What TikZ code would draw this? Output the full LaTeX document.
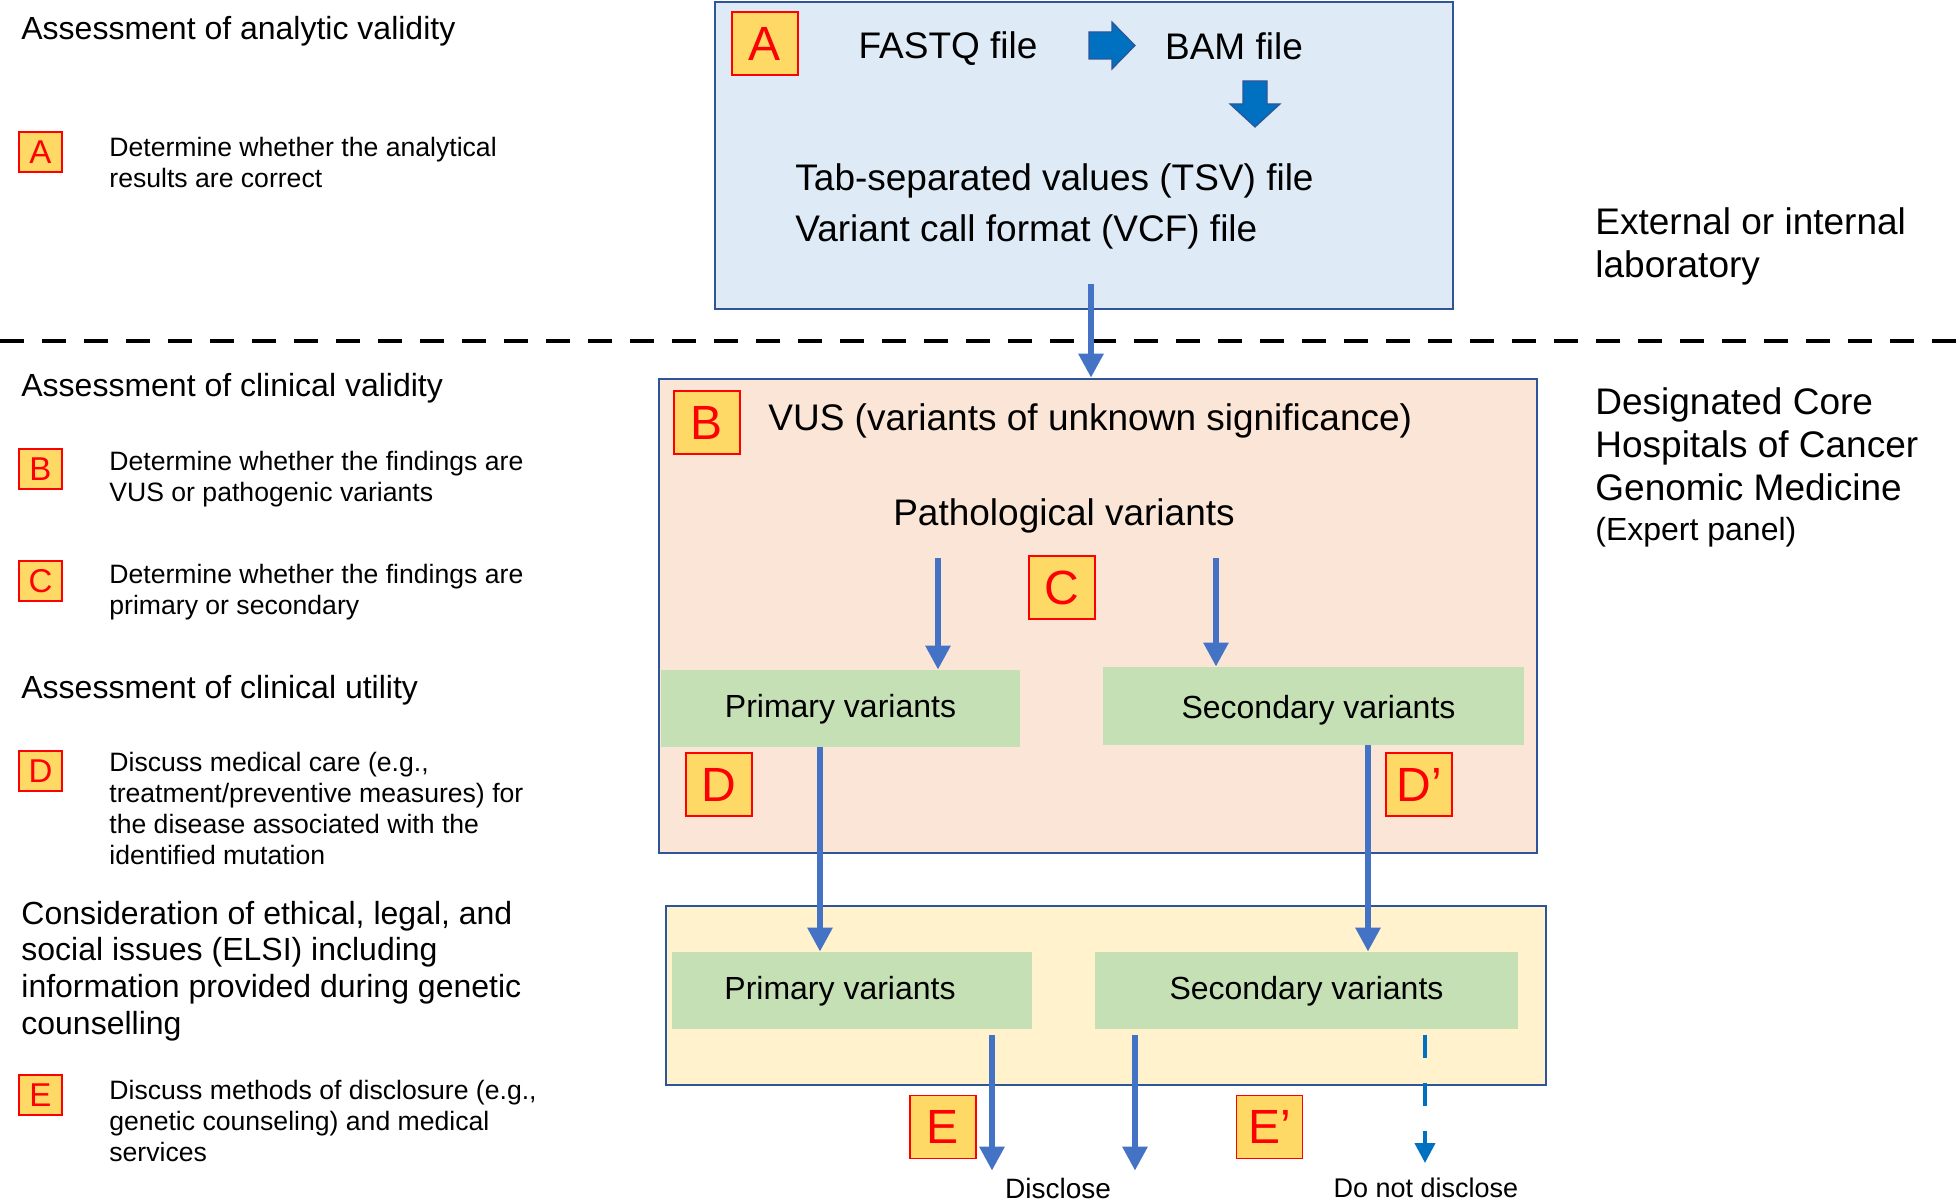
\documentclass[tikz,border=0pt]{standalone}
\usepackage{fontspec}
\setmainfont{Liberation Sans}
\usetikzlibrary{arrows.meta}
\definecolor{blueFill}{HTML}{DEEBF7}
\definecolor{pinkFill}{HTML}{FBE5D6}
\definecolor{yellowFill}{HTML}{FFF2CC}
\definecolor{greenFill}{HTML}{C5E0B4}
\definecolor{boxBorder}{HTML}{2F5597}
\definecolor{arrowBlue}{HTML}{4472C4}
\definecolor{dashBlue}{HTML}{0070C0}
\definecolor{badgeFill}{HTML}{FFD966}
\definecolor{badgeRed}{HTML}{FF0000}
\tikzset{
  hd/.style={anchor=west, align=left, font=\fontsize{16}{18.3}\selectfont, inner sep=0},
  sm/.style={anchor=west, align=left, font=\fontsize{13.3}{15.5}\selectfont, inner sep=0},
  big/.style={font=\fontsize{18.5}{21.5}\selectfont, inner sep=0},
  badge/.style={draw=badgeRed, fill=badgeFill, text=badgeRed, line width=0.75pt, inner sep=0},
  bigbadge/.style={badge, minimum width=33pt, minimum height=31.5pt, font=\fontsize{24}{24}\selectfont},
  smallbadge/.style={badge, minimum width=21.5pt, minimum height=20pt, font=\fontsize{16.5}{16.5}\selectfont},
  region/.style={draw=boxBorder, line width=1.3pt},
  greenbox/.style={fill=greenFill, font=\fontsize{16}{18}\selectfont, inner sep=0},
  conn/.style={draw=arrowBlue, line width=2.9pt, -{Triangle[length=12pt,width=12pt]}},
  dconn/.style={draw=dashBlue, line width=2pt, dash pattern=on 11.5pt off 12.5pt, -{Triangle[length=10pt,width=10pt]}},
  blockarrow/.style={fill=dashBlue, draw=boxBorder, line width=0.6pt},
}
\begin{document}
\begin{tikzpicture}[x=0.5pt,y=-0.5pt]
\useasboundingbox (0,0) rectangle (1956,1204);

% divider
\draw[line width=1.8pt, dash pattern=on 12pt off 9pt] (0,341) -- (1956,341);

% left column
\node[hd] (h1) at (21,31) {Assessment of analytic validity};
\node[smallbadge] (sa) at (40.5,152) {A};
\node[sm] (ta) at (109,162.5) {Determine whether the analytical\\results are correct};
\node[hd] (h2) at (21,388) {Assessment of clinical validity};
\node[smallbadge] (sb) at (40.5,469) {B};
\node[sm] (tb) at (109,479) {Determine whether the findings are\\VUS or pathogenic variants};
\node[smallbadge] (sc) at (40.5,581) {C};
\node[sm] (tc) at (109,592.5) {Determine whether the findings are\\primary or secondary};
\node[hd] (h3) at (21,690) {Assessment of clinical utility};
\node[smallbadge] (sd) at (40.5,771) {D};
\node[sm] (td) at (109,808) {Discuss medical care (e.g.,\\treatment/preventive measures) for\\the disease associated with the\\identified mutation};
\node[hd] (h4) at (21,971) {Consideration of ethical, legal, and\\social issues (ELSI) including\\information provided during genetic\\counselling};
\node[smallbadge] (se) at (40.5,1095) {E};
\node[sm] (te) at (109,1120.5) {Discuss methods of disclosure (e.g.,\\genetic counseling) and medical\\services};

% right column
\node[big, anchor=west, align=left] (lab) at (1595,246.5) {External or internal\\laboratory};
\node[big, anchor=west, align=left] (hosp) at (1595,444) {Designated Core\\Hospitals of Cancer\\Genomic Medicine};
\node[anchor=west, inner sep=0, font=\fontsize{16}{18}\selectfont] (expert) at (1595,532) {(Expert panel)};

% box A
\node[region, fill=blueFill, minimum width=369pt, minimum height=153.5pt] (boxA) at (1084,155.5) {};
\node[bigbadge] (ba) at (765,43.5) {A};
\node[big] (fastq) at (948,49) {FASTQ file};
\node[big] (bam) at (1234,46) {BAM file};
\node[big, anchor=west] (tsv) at (795,181) {Tab-separated values (TSV) file};
\node[big, anchor=west] (vcf) at (795,232) {Variant call format (VCF) file};
\draw[blockarrow] (1089,32) -- (1112,32) -- (1112,22) -- (1135,45.5) -- (1112,69) -- (1112,59) -- (1089,59) -- cycle;
\draw[blockarrow] (1243,81) -- (1267,81) -- (1267,104) -- (1280,104) -- (1255,127) -- (1230,104) -- (1243,104) -- cycle;

% box B
\node[region, fill=pinkFill, minimum width=439pt, minimum height=237pt] (boxB) at (1098,616) {};
\node[bigbadge] (bb) at (707,422.5) {B};
\node[big, anchor=west] (vus) at (768,421) {VUS (variants of unknown significance)};
\node[big] (path) at (1064,516) {Pathological variants};
\node[bigbadge] (bc) at (1062,587.5) {C};
\node[greenbox, minimum width=179.5pt, minimum height=38.5pt] (p1) at (840.5,708.5) {\raisebox{-0.5pt}[\height][\depth]{Primary variants}};
\node[greenbox, minimum width=210.5pt, minimum height=39pt] (s1) at (1313.5,706) {\hspace*{5pt}\raisebox{-2pt}[\height][\depth]{Secondary variants}};
\node[bigbadge] (bd) at (719,784.5) {D};
\node[bigbadge] (bdp) at (1419,784.5) {D’};

% box C
\node[region, fill=yellowFill, minimum width=440pt, minimum height=89.5pt] (boxC) at (1106,995.5) {};
\node[greenbox, minimum width=180pt, minimum height=38.5pt] (p2) at (852,990.5) {\hspace*{-12pt}\raisebox{-0.5pt}[\height][\depth]{Primary variants}};
\node[greenbox, minimum width=211.5pt, minimum height=38.5pt] (s2) at (1306.5,990.5) {\raisebox{-0.5pt}[\height][\depth]{Secondary variants}};
\node[bigbadge] (be) at (943,1127) {E};
\node[bigbadge] (bep) at (1269.5,1127) {E’};
\node[font=\fontsize{14}{16}\selectfont] (disc) at (1058,1188) {Disclose};
\node[font=\fontsize{13.5}{16}\selectfont] (ndisc) at (1426,1188) {Do not disclose};

% connectors
\coordinate (a0) at (1091,284);
\draw[conn] (a0) -- (boxB.north -| a0);
\coordinate (c1) at (938,558);
\draw[conn] (c1) -- (p1.north -| c1);
\coordinate (c2) at (1216,558);
\draw[conn] (c2) -- (s1.north -| c2);
\coordinate (x1) at (820,747);
\draw[conn] (x1) -- (p2.north -| x1);
\coordinate (x2) at (1368,745);
\draw[conn] (x2) -- (s2.north -| x2);
\coordinate (e1) at (992,1035);
\draw[conn] (e1) -- (disc.north -| e1);
\coordinate (e2) at (1135,1035);
\draw[conn] (e2) -- (disc.north -| e2);
\coordinate (e3) at (1425,1035);
\draw[dconn, shorten >=4pt] (e3) -- (ndisc.north -| e3);
\end{tikzpicture}
\end{document}
